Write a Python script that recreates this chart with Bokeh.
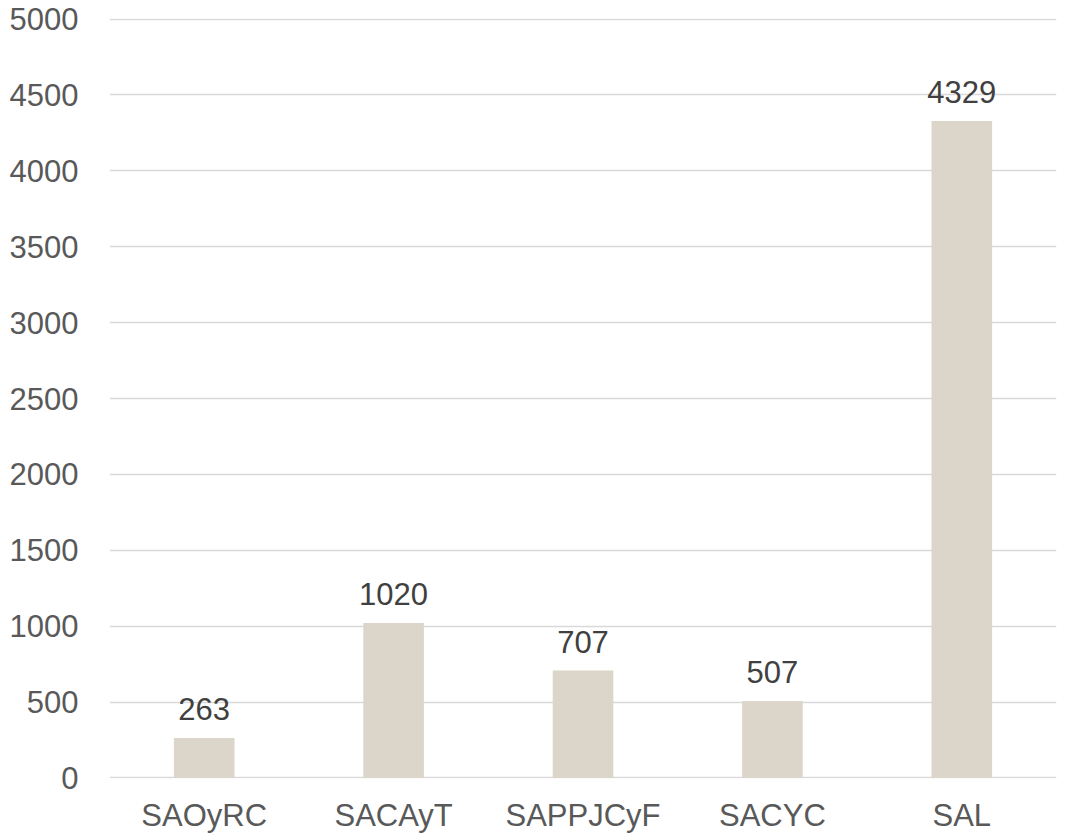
from bokeh.plotting import figure
from bokeh.models import ColumnDataSource, FixedTicker
from bokeh.embed import file_html
from bokeh.resources import INLINE
from bokeh.core.properties import value

categories = ["SAOyRC", "SACAyT", "SAPPJCyF", "SACYC", "SAL"]
values = [263, 1020, 707, 507, 4329]
y_ticks = [0, 500, 1000, 1500, 2000, 2500, 3000, 3500, 4000, 4500, 5000]

src = ColumnDataSource(dict(cat=categories, val=values, lab=[str(v) for v in values]))

p = figure(x_range=categories, y_range=(-4, 5004), width=1064, height=835,
           output_backend="svg", toolbar_location=None,
           min_border_left=109, min_border_right=8, min_border_top=18, min_border_bottom=56)
p.outline_line_color = None
p.background_fill_color = "white"
p.border_fill_color = "white"

p.vbar(x="cat", top="val", width=0.32, source=src, fill_color="#DCD6CA", line_color=None)
p.text(x="cat", y="val", text="lab", source=src, text_align="center", text_baseline="alphabetic",
       y_offset=-29, text_font=value("Liberation Sans"), text_font_size="31px", text_color="#404040")

p.yaxis.ticker = FixedTicker(ticks=y_ticks)
p.yaxis.axis_line_color = None
p.yaxis.major_tick_line_color = None
p.yaxis.minor_tick_line_color = None
p.yaxis.major_label_standoff = 25
p.yaxis.major_label_text_font = "Liberation Sans"
p.yaxis.major_label_text_font_size = "31px"
p.yaxis.major_label_text_color = "#595959"

p.xaxis.axis_line_color = None
p.xaxis.major_tick_line_color = None
p.xaxis.major_label_standoff = 13
p.xaxis.major_label_text_font = "Liberation Sans"
p.xaxis.major_label_text_font_size = "31px"
p.xaxis.major_label_text_color = "#595959"

p.xgrid.grid_line_color = None
p.ygrid.grid_line_color = "#D9D9D9"
p.ygrid.grid_line_width = 1.5

open("out.html", "w").write(file_html(p, INLINE))
